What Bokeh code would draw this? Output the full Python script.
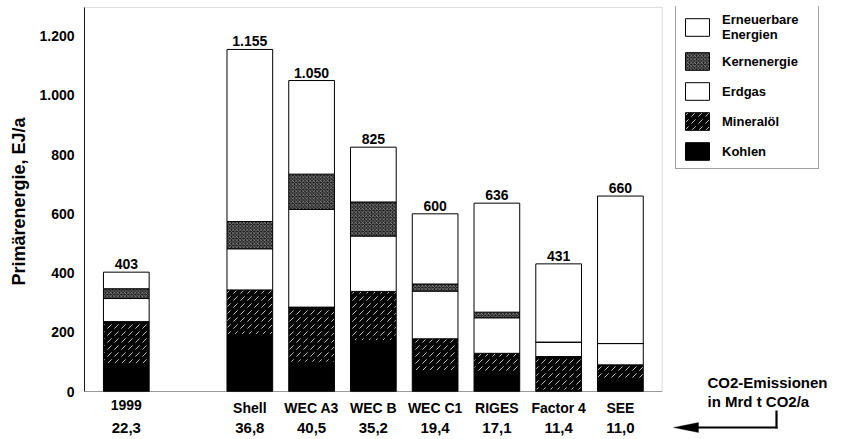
from bokeh.plotting import figure
from bokeh.models import (FactorRange, Range1d, ColumnDataSource, FixedTicker, Title,
                          Legend, LegendItem, Label, Arrow, PolyAnnotation, BoxAnnotation)
from bokeh.core.properties import value
from bokeh.embed import file_html
from bokeh.resources import INLINE

# ---- data ----
scenarios = ["1999", "Shell", "WEC A3", "WEC B", "WEC C1", "RIGES", "Factor 4", "SEE"]
co2_values = ["22,3", "36,8", "40,5", "35,2", "19,4", "17,1", "11,4", "11,0"]
totals = [403, 1155, 1050, 825, 600, 636, 431, 660]
kohlen = [94, 193, 99, 172, 71, 60, 5, 37]
mineraloel = [142, 150, 186, 166, 107, 69, 113, 53]
erdgas = [78, 139, 330, 187, 161, 120, 49, 72]
kernenergie = [33, 92, 119, 115, 24, 19, 0, 0]
erneuerbare = [56, 581, 316, 185, 237, 368, 264, 498]
y_ticks = [0, 200, 400, 600, 800, 1000, 1200]
series_names = ["Kohlen", "Mineralöl", "Erdgas", "Kernenergie", "Erneuerbare\nEnergien"]
note_lines = ["CO2-Emissionen", "in Mrd t CO2/a"]
y_title = "Primärenergie, EJ/a"

FONT = "Liberation Sans"

# styles per series (bottom -> top)
fills = ["black", "#050505", "white", "#1c1c1c", "white"]
hatches = [" ", "right_diagonal_dash", " ", "diagonal_cross", " "]
hscales = [8, 7, 8, 3.5, 8]
hweights = [1, 1, 1, 0.6, 1]
halphas = [1, 0.75, 1, 0.7, 1]

PAD = 0.177          # range padding (category units)
Y_TOP = 1297         # upper end of the value axis
X_END = 9 + PAD      # right edge of the plot box (synthetic units)


def de_num(v):
    return f"{v:,}".replace(",", ".")


# blank factor for the gap after 1999, trailing blanks for the legend / note area
x_factors = [scenarios[0], " "] + scenarios[1:] + ["  ", "   ", "    "]

src = ColumnDataSource(dict(
    scenario=scenarios, co2=co2_values,
    kohlen=kohlen, mineraloel=mineraloel, erdgas=erdgas,
    kern=kernenergie, ern=erneuerbare, total=totals,
    total_label=[de_num(t) for t in totals],
))

p = figure(width=847, height=439,
           x_range=FactorRange(factors=x_factors, range_padding=PAD, range_padding_units="absolute"),
           y_range=Range1d(-162, 1300),
           output_backend="svg", toolbar_location=None, x_axis_location=None,
           min_border_left=83, min_border_right=0, min_border_top=6, min_border_bottom=0)

p.xgrid.grid_line_color = None
p.ygrid.grid_line_color = None
p.outline_line_color = None

stackers = ["kohlen", "mineraloel", "erdgas", "kern", "ern"]
rs = p.vbar_stack(
    stackers, x="scenario", width=0.74, source=src,
    fill_color=fills, line_color="black", line_width=1,
    hatch_pattern=hatches, hatch_color="white",
    hatch_scale=hscales, hatch_weight=hweights, hatch_alpha=halphas,
)

# plot box: grey top/right, black base line
p.add_layout(BoxAnnotation(bottom=0, top=Y_TOP, right=X_END, fill_alpha=0,
                           line_color="#8c8c8c", line_width=1))
p.add_layout(BoxAnnotation(bottom=0, top=0, right=X_END, fill_alpha=0,
                           line_color="black", line_width=1.2))

# totals above bars
p.text(x="scenario", y="total", text="total_label", source=src, y_offset=-3,
       text_align="center", text_baseline="bottom", text_font=value(FONT),
       text_font_size="14px", text_font_style="bold", text_color="black")
# scenario names and CO2 values below the base line
p.text(x="scenario", y=0, text="scenario", source=src, y_offset=8,
       text_align="center", text_baseline="top", text_font=value(FONT),
       text_font_size="14px", text_font_style="bold", text_color="black")
p.text(x="scenario", y=0, text="co2", source=src, y_offset=31,
       text_align="center", text_baseline="top", text_font=value(FONT),
       text_font_size="15px", text_font_style="bold", text_color="black")

# y axis
ya = p.yaxis[0]
ya.ticker = FixedTicker(ticks=y_ticks)
ya.bounds = (0, Y_TOP)
ya.major_label_overrides = {t: de_num(t) for t in y_ticks}
ya.major_label_text_font = FONT
ya.major_label_text_font_size = "14px"
ya.major_label_text_font_style = "bold"
ya.major_label_text_color = "black"
ya.major_label_standoff = 10
ya.major_tick_line_color = None
ya.major_tick_out = 0
ya.minor_tick_line_color = None
ya.axis_line_color = "black"

p.add_layout(Title(text=y_title, align="left", offset=154, vertical_align="middle",
                   standoff=14, text_font=FONT, text_font_size="18px",
                   text_font_style="bold", text_color="black"), "left")

# legend
items = [LegendItem(label=n, renderers=[r]) for n, r in zip(series_names, rs)][::-1]
legend = Legend(items=items, location=(591, 270),
                glyph_width=30, glyph_height=22, label_height=22, spacing=8,
                padding=6, label_standoff=10, label_width=90,
                label_text_font=FONT, label_text_font_size="13px", label_text_font_style="bold",
                label_text_color="black", label_text_line_height=0.8,
                border_line_color="#444444", border_line_width=1,
                background_fill_color="white", background_fill_alpha=1)
p.add_layout(legend)

# note with arrow pointing at the CO2 row (screen px from frame bottom-left)
for txt, yy in zip(note_lines, [57, 38]):
    p.add_layout(Label(x=623, y=yy, x_units="screen", y_units="screen", text=txt,
                       text_font=FONT, text_font_size="15px", text_font_style="bold",
                       text_color="black", text_baseline="middle", text_align="left"))
p.add_layout(Arrow(x_start=692, y_start=29, x_end=692, y_end=11,
                   start_units="screen", end_units="screen", end=None,
                   line_width=2.2, line_color="black"))
p.add_layout(Arrow(x_start=693, y_start=12, x_end=610, y_end=12,
                   start_units="screen", end_units="screen", end=None,
                   line_width=2.2, line_color="black"))
p.add_layout(PolyAnnotation(xs=[589, 614, 614], ys=[12, 17, 7],
                            xs_units="screen", ys_units="screen",
                            fill_color="black", fill_alpha=1, line_color="black"))

open("out.html", "w").write(file_html(p, INLINE))
